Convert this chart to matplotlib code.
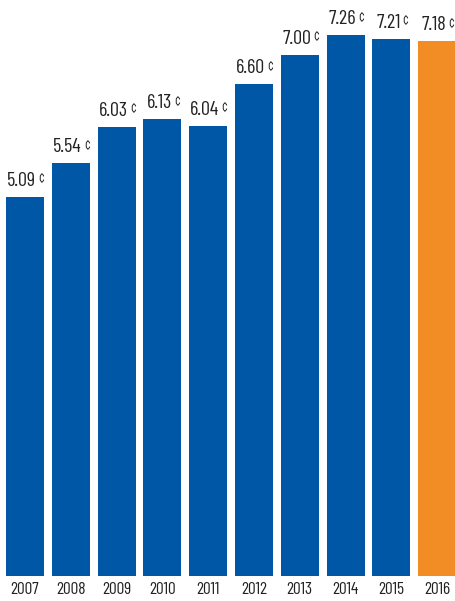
import matplotlib
matplotlib.use("Agg")
import matplotlib.pyplot as plt

years = ["2007", "2008", "2009", "2010", "2011", "2012", "2013", "2014", "2015", "2016"]
values = [5.09, 5.54, 6.03, 6.13, 6.04, 6.60, 7.00, 7.26, 7.21, 7.18]
colors = ["#0057a5"] * 9 + ["#f28d25"]

plt.rcParams["font.family"] = ["Barlow Condensed", "DejaVu Sans"]

fig = plt.figure(figsize=(4.56, 6.01), dpi=100)
ax = fig.add_axes([0, 25 / 601, 1, 576 / 601])

pitch = 45.8
x = list(range(len(years)))
ax.bar(x, values, width=38 / pitch, color=colors)
ax.set_xlim(-25 / pitch, (456 - 25) / pitch)
ax.set_ylim(0, 576 / 74.5)

for xi, v in zip(x, values):
    t = ax.annotate(f"{v:.2f}", (xi - 0.07, v), xytext=(0, 5), textcoords="offset points",
                    ha="center", va="bottom", fontsize=14.5, color="#222222")
    ax.annotate("¢", xy=(1, 0.2), xycoords=t, xytext=(1.5, 0), textcoords="offset points",
                ha="left", va="bottom", fontsize=10, color="#222222")

ax.set_xticks(x)
ax.set_xticklabels(years, fontsize=12.5, color="#222222")
ax.tick_params(axis="x", length=0, pad=4)
ax.set_yticks([])
for s in ax.spines.values():
    s.set_visible(False)

fig.savefig("out.png", dpi=100)
